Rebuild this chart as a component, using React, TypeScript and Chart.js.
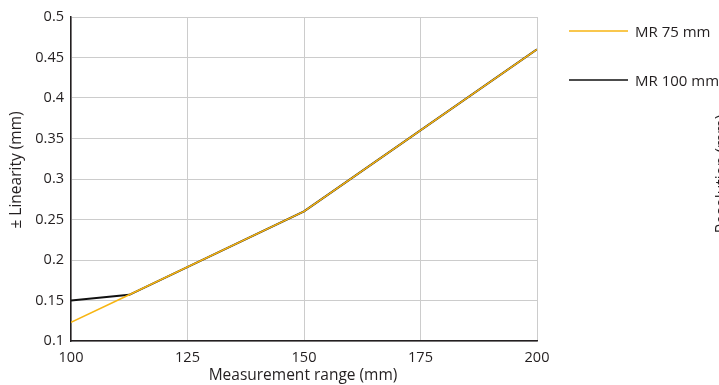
import React, { useEffect, useRef } from "react";
import { Chart, registerables } from "chart.js";

Chart.register(...registerables);

const xTicks = [100, 125, 150, 175, 200];
const yTicks = [0.1, 0.15, 0.2, 0.25, 0.3, 0.35, 0.4, 0.45, 0.5];
const mr75X = [100, 112.5, 150, 200];
const mr75Y = [0.123, 0.157, 0.26, 0.46];
const mr100X = [100, 112.5, 150, 200];
const mr100Y = [0.15, 0.157, 0.26, 0.46];
const seriesNames = ["MR 75 mm", "MR 100 mm"];
const seriesColors = ["#f7b512", "#111111"];
const xTitle = "Measurement range (mm)";
const yTitle = "± Linearity (mm)";
const y2Title = "Resolution (mm)";

const FONT = "'Open Sans', 'Noto Sans', sans-serif";

const decorPlugin = {
  id: "decor",
  afterDraw(chart: any) {
    const ctx = chart.ctx;
    const area = chart.chartArea;
    ctx.save();
    ctx.fillStyle = "#231f20";
    ctx.font = `15.5px ${FONT}`;
    ctx.textAlign = "center";
    ctx.textBaseline = "middle";
    ctx.fillText(xTitle, (area.left + area.right) / 2 - 1, 376);
    ctx.save();
    ctx.translate(17, 170);
    ctx.rotate(-Math.PI / 2);
    ctx.fillText(yTitle, 0, 0);
    ctx.restore();
    ctx.save();
    ctx.translate(723, 174);
    ctx.rotate(-Math.PI / 2);
    ctx.fillText(y2Title, 0, 0);
    ctx.restore();
    // legend
    ctx.font = `15px ${FONT}`;
    const rows = [31, 80];
    seriesNames.forEach((name, i) => {
      ctx.strokeStyle = seriesColors[i];
      ctx.lineWidth = 1.5;
      ctx.beginPath();
      ctx.moveTo(569, rows[i]);
      ctx.lineTo(628, rows[i]);
      ctx.stroke();
      ctx.textAlign = "left";
      ctx.fillText(name, 635, rows[i] + 2);
    });
    ctx.restore();
  },
};

export default function App() {
  const ref = useRef<HTMLCanvasElement | null>(null);
  useEffect(() => {
    if (!ref.current) return;
    const chart = new Chart(ref.current, {
      type: "scatter",
      data: {
        datasets: [
          {
            label: seriesNames[1],
            data: mr100X.map((x, i) => ({ x, y: mr100Y[i] })),
            showLine: true,
            borderColor: seriesColors[1],
            borderWidth: 2,
            pointRadius: 0,
            order: 2,
          },
          {
            label: seriesNames[0],
            data: mr75X.map((x, i) => ({ x, y: mr75Y[i] })),
            showLine: true,
            borderColor: seriesColors[0],
            borderWidth: 1.6,
            pointRadius: 0,
            order: 1,
          },
        ],
      },
      options: {
        animation: false,
        responsive: false,
        maintainAspectRatio: false,
        layout: { padding: { top: 17, right: 182, left: 0, bottom: 0 } },
        plugins: { legend: { display: false }, tooltip: { enabled: false } },
        scales: {
          x: {
            type: "linear",
            min: 100,
            max: 200,
            afterBuildTicks: (s: any) => {
              s.ticks = xTicks.map((v) => ({ value: v }));
            },
            afterFit: (s: any) => {
              s.height = 44;
            },
            grid: { color: "#cccccc", drawTicks: false, lineWidth: 1 },
            border: { color: "#231f20", width: 1.5 },
            ticks: {
              color: "#231f20",
              font: { family: FONT, size: 14.5 },
              padding: 8,
              maxRotation: 0,
            },
          },
          y: {
            type: "linear",
            min: 0.1,
            max: 0.5,
            afterBuildTicks: (s: any) => {
              s.ticks = yTicks.map((v) => ({ value: v }));
            },
            afterFit: (s: any) => {
              s.width = 71;
            },
            grid: { color: "#cccccc", drawTicks: false, lineWidth: 1 },
            border: { color: "#231f20", width: 1.5 },
            ticks: {
              color: "#231f20",
              font: { family: FONT, size: 14.5 },
              padding: 7,
              callback: (v: any) => String(Number(v)),
            },
          },
        },
      },
      plugins: [decorPlugin],
    });
    return () => chart.destroy();
  }, []);
  return (
    <div style={{ position: "fixed", left: 0, top: 0, width: 719, height: 385, background: "#fff" }}>
      <canvas ref={ref} width={719} height={385} style={{ display: "block" }} />
    </div>
  );
}
